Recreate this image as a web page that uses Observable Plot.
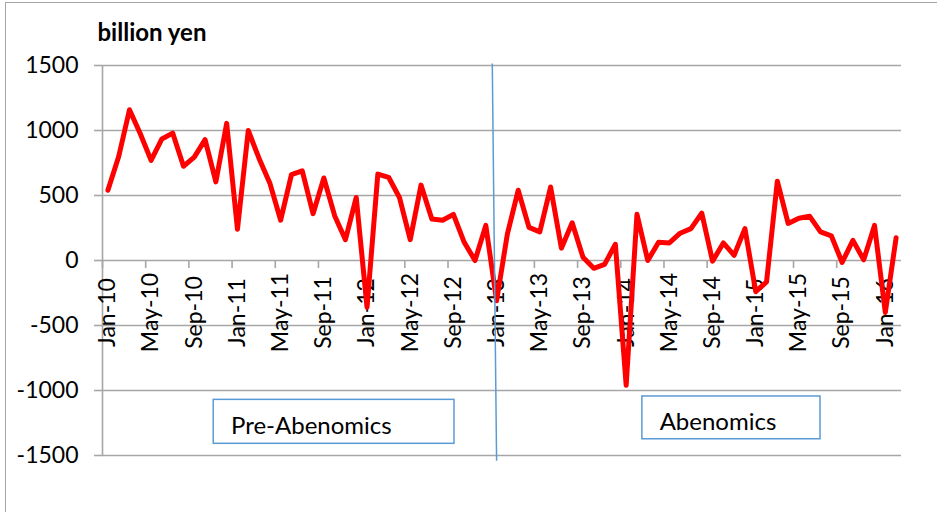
<!DOCTYPE html>
<html>
<head>
<meta charset="utf-8">
<script src="https://cdn.jsdelivr.net/npm/d3@7"></script>
<script src="https://cdn.jsdelivr.net/npm/@observablehq/plot@0.6"></script>
<style>
  html, body { margin: 0; padding: 0; background: #fff; }
  #wrap { position: relative; width: 937px; height: 512px; overflow: hidden; font-family: Lato, sans-serif; }
  #frame { position: absolute; left: 5px; top: 2px; width: 1000px; height: 1000px; border: 1.5px solid #a6a6a6; box-sizing: border-box; pointer-events: none; }
  #chart { position: absolute; left: 0; top: 0; }
</style>
</head>
<body>
<div id="wrap"><div id="frame"></div><div id="chart"></div></div>
<script>
const months = [
  "Jan-10","Feb-10","Mar-10","Apr-10","May-10","Jun-10","Jul-10","Aug-10","Sep-10","Oct-10","Nov-10","Dec-10",
  "Jan-11","Feb-11","Mar-11","Apr-11","May-11","Jun-11","Jul-11","Aug-11","Sep-11","Oct-11","Nov-11","Dec-11",
  "Jan-12","Feb-12","Mar-12","Apr-12","May-12","Jun-12","Jul-12","Aug-12","Sep-12","Oct-12","Nov-12","Dec-12",
  "Jan-13","Feb-13","Mar-13","Apr-13","May-13","Jun-13","Jul-13","Aug-13","Sep-13","Oct-13","Nov-13","Dec-13",
  "Jan-14","Feb-14","Mar-14","Apr-14","May-14","Jun-14","Jul-14","Aug-14","Sep-14","Oct-14","Nov-14","Dec-14",
  "Jan-15","Feb-15","Mar-15","Apr-15","May-15","Jun-15","Jul-15","Aug-15","Sep-15","Oct-15","Nov-15","Dec-15",
  "Jan-16","Feb-16"
];
const balance = [
  540, 800, 1160, 975, 770, 935, 980, 725, 795, 930, 605, 1055,
  240, 1000, 785, 595, 310, 660, 690, 360, 635, 345, 160, 485,
  -360, 665, 640, 485, 160, 580, 320, 310, 355, 140, 0, 270,
  -310, 205, 540, 255, 220, 565, 95, 290, 25, -60, -30, 125,
  -960, 355, 0, 140, 135, 210, 245, 365, -5, 135, 40, 245,
  -240, -165, 610, 285, 325, 340, 220, 190, -15, 155, 5, 270,
  -400, 175
];
const yTicks = [-1500, -1000, -500, 0, 500, 1000, 1500];
const labelStep = 4;
const unitLabel = "billion yen";
const periods = [
  {label: "Pre-Abenomics", x1: 9.8, x2: 32.1, y1: -1072, y2: -1410, tx: 11.4, ty: -1279},
  {label: "Abenomics", x1: 49.5, x2: 66.0, y1: -1046, y2: -1375, tx: 51.1, ty: -1248}
];
const divider = [{x1: 35.6, y1: 1515, x2: 36.0, y2: -1540}];

const labelIdx = d3.range(0, months.length - 1, labelStep);
const boundaries = labelIdx.map(k => k - 0.5);
const gray = "#a6a6a6";

const chart = Plot.plot({
  width: 937,
  height: 512,
  marginLeft: 102,
  marginRight: 36,
  marginTop: 65,
  marginBottom: 57,
  style: {fontFamily: "Lato, sans-serif", background: "transparent", color: "#000"},
  x: {type: "linear", domain: [-0.5, months.length - 0.5], axis: null},
  y: {domain: [-1500, 1500], axis: null},
  marks: [
    Plot.ruleY(yTicks, {stroke: gray, strokeWidth: 1.6}),
    Plot.ruleX([-0.5], {stroke: gray, strokeWidth: 1.6}),
    Plot.axisY(yTicks, {tickSize: 8, tickPadding: 16, fontSize: 23, tickFormat: d => String(d), stroke: gray, strokeWidth: 1.6, label: null}),
    Plot.ruleX(boundaries, {x: d => d, y1: 0, y2: -62, stroke: gray, strokeWidth: 1.6}),
    Plot.text(labelIdx, {x: d => d, y: 0, text: d => months[d], rotate: -90, dy: 52, fontSize: 23, textAnchor: "middle", fill: "#000"}),
    Plot.rect(periods, {x1: "x1", x2: "x2", y1: "y1", y2: "y2", fill: "white", stroke: "#5b9bd5", strokeWidth: 1.5}),
    Plot.text(periods, {x: "tx", y: "ty", text: "label", textAnchor: "start", fontSize: 24, fill: "#000"}),
    Plot.line(balance, {x: (d, i) => i, y: d => d, stroke: "#ff0000", strokeWidth: 5, strokeLinejoin: "round"}),
    Plot.link(divider, {x1: "x1", y1: "y1", x2: "x2", y2: "y2", stroke: "#5b9bd5", strokeWidth: 1.5}),
    Plot.text([unitLabel], {frameAnchor: "top-left", dx: -5, dy: -42, textAnchor: "start", fontWeight: "bold", fontSize: 24, fill: "#000"})
  ]
});
document.getElementById("chart").appendChild(chart);
</script>
</body>
</html>
